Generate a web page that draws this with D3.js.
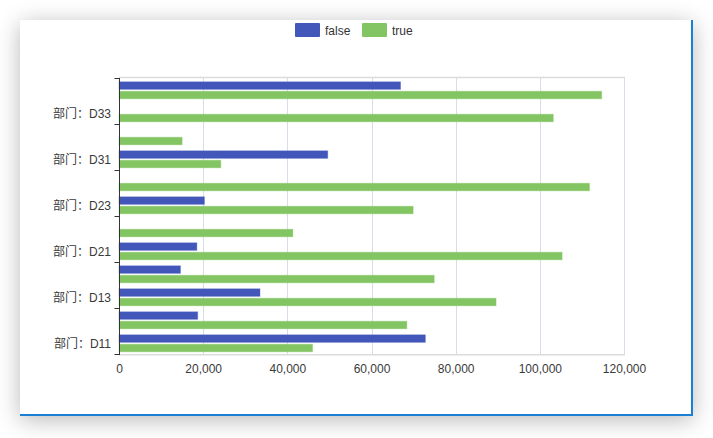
<!DOCTYPE html>
<html>
<head>
<meta charset="utf-8">
<script src="https://cdn.jsdelivr.net/npm/d3@7"></script>
<style>
  html, body { margin: 0; padding: 0; background: #fff; }
  body { width: 713px; height: 438px; position: relative; overflow: hidden; font-family: "Helvetica Neue", Helvetica, Arial, "Liberation Sans", "Noto Sans CJK SC", sans-serif; }
  #card { position: absolute; left: 20px; top: 20px; width: 671px; height: 394px; background: #fff;
          border-right: 2px solid #1b7fd6; border-bottom: 2px solid #1b7fd6;
          box-shadow: 0 4px 22px rgba(0,0,0,0.28); }
  svg { position: absolute; left: 0; top: 0; }
</style>
</head>
<body>
<div id="card"></div>
<svg id="chart" width="713" height="438"></svg>
<script>
const categories = ["部门：D11","部门：D12","部门：D13","部门：D14","部门：D21","部门：D22","部门：D23","部门：D24","部门：D31","部门：D32","部门：D33","部门：D34"];
const seriesNames = ["false", "true"];
const falseValues = [72800, 18700, 33500, 14600, 18500, null, 20300, null, 49600, null, null, 66900];
const trueValues  = [46000, 68400, 89600, 74900, 105300, 41300, 69900, 111800, 24200, 15000, 103200, 114700];
const xTicks = [0, 20000, 40000, 60000, 80000, 100000, 120000];
const colors = ["#4257b9", "#83c563"];

(function () {
const svg = d3.select("#chart");
const pLeft = 119, pRight = 624, pTop = 78, pBottom = 354;

const x = d3.scaleLinear().domain([0, 120000]).range([pLeft, pRight]);
const y = d3.scaleBand().domain(categories).range([pBottom, pTop]).padding(0);
const inner = d3.scaleBand().domain(seriesNames).range([3.8, 20.8]).paddingInner(0.2).paddingOuter(0);

// grid lines
svg.append("g").selectAll("line").data(xTicks.slice(1)).join("line")
  .attr("x1", d => Math.round(x(d)) + 0.5).attr("x2", d => Math.round(x(d)) + 0.5)
  .attr("y1", pTop).attr("y2", pBottom)
  .attr("stroke", "#d7deea").attr("stroke-width", 1);

// top and bottom light border lines
svg.append("line").attr("x1", pLeft).attr("x2", pRight + 1).attr("y1", pTop - 0.5).attr("y2", pTop - 0.5)
  .attr("stroke", "#dcdcdc").attr("stroke-width", 1.5);
svg.append("line").attr("x1", pLeft).attr("x2", pRight + 1).attr("y1", pBottom + 0.8).attr("y2", pBottom + 0.8)
  .attr("stroke", "#dcdcdc").attr("stroke-width", 1.5);

// bars
const rows = categories.map((c, i) => ({ c, vals: [falseValues[i], trueValues[i]] }));
const g = svg.append("g");
rows.forEach(r => {
  r.vals.forEach((v, si) => {
    if (v == null) return;
    g.append("rect")
      .attr("x", x(0))
      .attr("y", y(r.c) + inner(seriesNames[si]))
      .attr("width", x(v) - x(0))
      .attr("height", inner.bandwidth())
      .attr("fill", colors[si])
      .attr("stroke", colors[si]).attr("stroke-opacity", 0.35).attr("stroke-width", 1);
  });
});

// x axis labels
const xAxis = d3.axisBottom(x).tickValues(xTicks).tickSize(0).tickPadding(10)
  .tickFormat(d3.format(","));
const gx = svg.append("g").attr("transform", `translate(0,${pBottom})`).call(xAxis);
gx.select(".domain").remove();
gx.selectAll("text").attr("fill", "#3a3a3a").style("font-size", "12px")
  .style("font-family", "'Helvetica Neue', Helvetica, Arial, 'Liberation Sans', sans-serif");

// y axis
const shown = categories.filter((d, i) => i % 2 === 0);
const gy = svg.append("g").attr("transform", `translate(${pLeft},0)`);
gy.append("line").attr("x1", 0.5).attr("x2", 0.5).attr("y1", pTop).attr("y2", pBottom + 1)
  .attr("stroke", "#333").attr("stroke-width", 1);
const tickPos = d3.range(0, categories.length + 1, 2).map(i => i === categories.length ? pTop : y(categories[i]) + y.bandwidth());
gy.selectAll("line.tk").data(tickPos).join("line").attr("class", "tk")
  .attr("x1", -4.5).attr("x2", 0.5).attr("y1", d => Math.round(d) + 0.5).attr("y2", d => Math.round(d) + 0.5)
  .attr("stroke", "#333").attr("stroke-width", 1);
gy.selectAll("text").data(shown).join("text")
  .attr("x", -8).attr("y", d => y(d) + y.bandwidth() / 2 + 1)
  .attr("text-anchor", "end").attr("dominant-baseline", "central")
  .attr("fill", "#3a3a3a").style("font-size", "12px")
  .style("font-family", "'Helvetica Neue', Helvetica, Arial, 'Liberation Sans', 'Noto Sans CJK SC', sans-serif")
  .text(d => d);

// legend
const legend = svg.append("g");
const lx = [295, 362];
seriesNames.forEach((s, i) => {
  legend.append("rect").attr("x", lx[i]).attr("y", 23).attr("width", 25).attr("height", 14)
    .attr("rx", 1).attr("fill", colors[i]);
  legend.append("text").attr("x", lx[i] + 30).attr("y", 30.5).attr("dominant-baseline", "central")
    .attr("fill", "#333").style("font-size", "12px")
    .style("font-family", "'Helvetica Neue', Helvetica, Arial, 'Liberation Sans', sans-serif")
    .text(s);
});
})();
</script>
</body>
</html>
